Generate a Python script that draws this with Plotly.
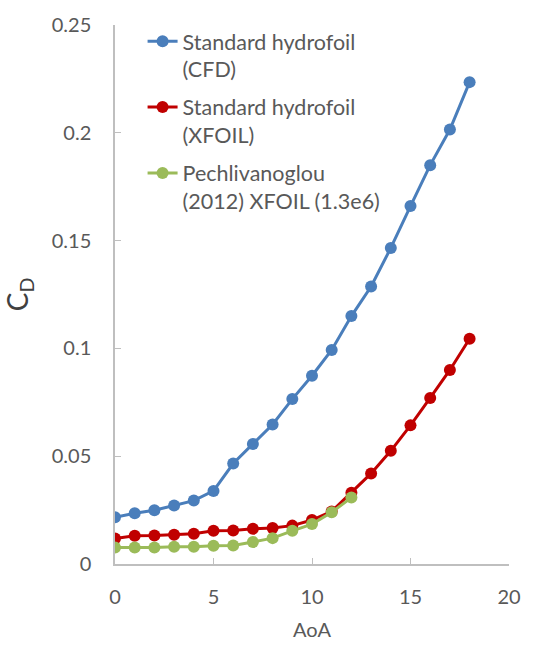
import plotly.graph_objects as go

aoa_cfd = list(range(0, 19))
cd_cfd = [0.0217, 0.0235, 0.0249, 0.0271, 0.0294, 0.0339, 0.0466, 0.0557, 0.0647,
          0.0765, 0.0873, 0.0993, 0.1150, 0.1287, 0.1466, 0.1660, 0.1850, 0.2015, 0.2235]

aoa_xfoil = list(range(0, 19))
cd_xfoil = [0.0118, 0.0131, 0.0132, 0.0136, 0.0140, 0.0154, 0.0155, 0.0163, 0.0167,
            0.0178, 0.0204, 0.0244, 0.0330, 0.0420, 0.0525, 0.0643, 0.0770, 0.0900, 0.1045]

aoa_pech = list(range(0, 13))
cd_pech = [0.0077, 0.0076, 0.0076, 0.0080, 0.0080, 0.0085, 0.0086, 0.0102, 0.0120,
           0.0154, 0.0185, 0.0240, 0.0308]

names = ["Standard hydrofoil<br>(CFD)", "Standard hydrofoil<br>(XFOIL)",
         "Pechlivanoglou<br>(2012) XFOIL (1.3e6)"]
colors = ["#4A7EBB", "#C00000", "#9BBB59"]

x_ticks = [0, 5, 10, 15, 20]
y_ticks = [0, 0.05, 0.1, 0.15, 0.2, 0.25]
y_ticklabels = ["0", "0.05", "0.1", "0.15", "0.2", "0.25"]

FONT = "Lato"
GREY = "#595959"

fig = go.Figure()
for i, (xs, ys, nm, c) in enumerate([(aoa_cfd, cd_cfd, names[0], colors[0]),
                                     (aoa_xfoil, cd_xfoil, names[1], colors[1]),
                                     (aoa_pech, cd_pech, names[2], colors[2])]):
    fig.add_trace(go.Scatter(x=xs, y=ys, name=nm, mode="lines+markers",
                             legendgroup=f"g{i}",
                             line=dict(color=c, width=3),
                             marker=dict(color=c, size=12)))

fig.update_layout(
    width=533, height=650,
    margin=dict(l=115, r=13, t=15, b=80),
    paper_bgcolor="white", plot_bgcolor="white",
    font=dict(family=FONT, color=GREY, size=20),
    showlegend=True,
    legend=dict(x=0.07, y=1.008, xanchor="left", yanchor="top",
                bgcolor="rgba(0,0,0,0)", valign="top",
                traceorder="grouped", tracegroupgap=7,
                font=dict(family=FONT, size=21.5, color=GREY)),
    xaxis=dict(range=[0, 20], tickvals=x_ticks, showgrid=False, zeroline=False,
               showline=True, linecolor="#BFBFBF", linewidth=1.5,
               ticks="inside", ticklen=6, tickcolor="#BFBFBF",
               tickfont=dict(family=FONT, size=20, color=GREY),
               ticklabelstandoff=14,
               title=dict(text="AoA", font=dict(family=FONT, size=20, color=GREY), standoff=16)),
    yaxis=dict(range=[0, 0.25], tickvals=y_ticks, ticktext=y_ticklabels,
               showgrid=False, zeroline=False,
               showline=True, linecolor="#BFBFBF", linewidth=1.5,
               ticks="inside", ticklen=6, tickcolor="#BFBFBF",
               tickfont=dict(family=FONT, size=20, color=GREY),
               ticklabelstandoff=18,
               title=dict(text="C<sub>D</sub>", font=dict(family=FONT, size=28, color="#404040"), standoff=16)),
)

fig.write_html("out.html")
